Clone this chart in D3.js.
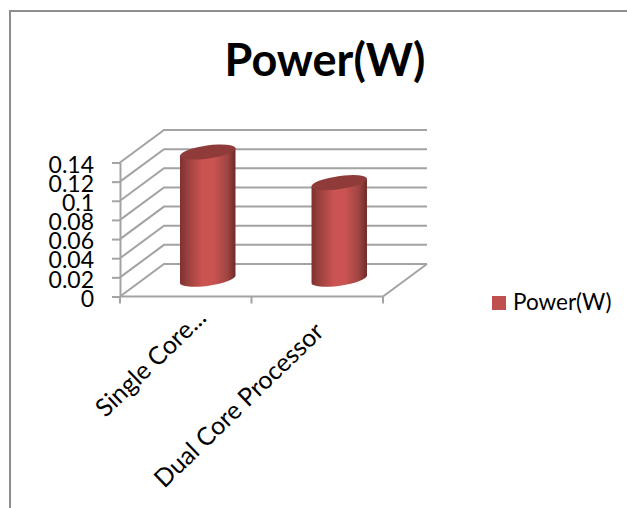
<!DOCTYPE html>
<html><head><meta charset="utf-8">
<script src="https://cdn.jsdelivr.net/npm/d3@7"></script>
<style>html,body{margin:0;padding:0;background:#fff}svg{display:block}text{font-family:Lato,"Open Sans",sans-serif;fill:#000}</style>
</head><body><svg id="c" width="627" height="508"></svg>
<script>
const categories = ["Single Core...", "Dual Core Processor"];
const powerValues = [0.134, 0.102];
const tickValues = [0, 0.02, 0.04, 0.06, 0.08, 0.1, 0.12, 0.14];
const seriesName = "Power(W)";
const titleText = "Power(W)";

const svg = d3.select("#c");
const x = d3.scaleBand().domain(categories).range([120, 383]);
const y = d3.scaleLinear().domain([0, 0.14]).range([296.5, 162.5]);
const dx = 44, dy = -32.5;
const grid = "#a3a3a3";

svg.append("path").attr("d", "M10,508V11H627").attr("fill", "none").attr("stroke", "#8e8e8e").attr("stroke-width", 2);

const defs = svg.append("defs");
const g = defs.append("linearGradient").attr("id", "cyl");
[[0, "#7e302e"], [0.12, "#96403d"], [0.4, "#cb5351"], [0.6, "#cb5452"], [0.85, "#a04542"], [1, "#6f2a28"]]
  .forEach(([o, c]) => g.append("stop").attr("offset", o).attr("stop-color", c));

// walls and floor
const line = d3.line();
const gridG = svg.append("g").attr("fill", "none").attr("stroke", grid).attr("stroke-width", 2);
tickValues.forEach(t => {
  gridG.append("path").attr("d", line([[120, y(t)], [120 + dx, y(t) + dy], [383 + dx, y(t) + dy]]));
});
gridG.append("path").attr("d", line([[383, y(0)], [383 + dx, y(0) + dy]]));

// axes
const axisY = d3.axisLeft(y).tickValues(tickValues).tickSize(8).tickSizeOuter(0).tickFormat(d => String(d));
const ay = svg.append("g").attr("transform", "translate(120,0)").call(axisY);
ay.selectAll("path,line").attr("stroke", grid).attr("stroke-width", 2);
ay.selectAll("text").attr("font-size", 23).attr("x", -26).attr("y", 1.5).attr("dy", "0.36em").attr("text-anchor", "end");

const ax = svg.append("g").attr("fill", "none").attr("stroke", grid).attr("stroke-width", 2);
ax.append("path").attr("d", line([[120, y(0)], [383, y(0)]]));
[120, 120 + x.step(), 383].forEach(p => ax.append("path").attr("d", line([[p, y(0)], [p, y(0) + 7]])));

// cylinders
const rad = -8, sinT = Math.sin(rad * Math.PI / 180), cosT = Math.cos(rad * Math.PI / 180);
categories.forEach((c, i) => {
  const cx = x(c) + x.bandwidth() / 2 + dx / 2;
  const w = 28, ry = 6.5;
  const yb = y(0) + dy / 2 - 1;
  const yt = y(powerValues[i]) + dy / 2;
  const hw = w * cosT, off = w * sinT;
  const p = `M${cx - hw},${yt - off}L${cx - hw},${yb - off}A${w},${ry},${rad},0,0,${cx + hw},${yb + off}L${cx + hw},${yt + off}Z`;
  svg.append("path").attr("d", p).attr("fill", "url(#cyl)");
  svg.append("ellipse").attr("rx", w).attr("ry", ry)
    .attr("transform", `translate(${cx},${yt}) rotate(${rad})`).attr("fill", "#8f3b39");
});

// category labels
const labelNudgeX = [22, 8], labelNudgeY = [23, 37];
categories.forEach((c, i) => {
  const px = x(c) + x.bandwidth() / 2 + labelNudgeX[i];
  svg.append("text").text(c).attr("font-size", 25).attr("text-anchor", "end")
    .attr("transform", `translate(${px},${y(0) + labelNudgeY[i]}) rotate(-44)`);
});

// title
svg.append("text").text(titleText).attr("x", 325).attr("y", 76).attr("text-anchor", "middle")
  .attr("font-size", 45).attr("font-weight", 700);

// legend
svg.append("rect").attr("x", 492).attr("y", 296).attr("width", 14).attr("height", 14).attr("fill", "#c0504d");
svg.append("text").text(seriesName).attr("x", 513).attr("y", 310).attr("font-size", 22.5);
</script></body></html>
